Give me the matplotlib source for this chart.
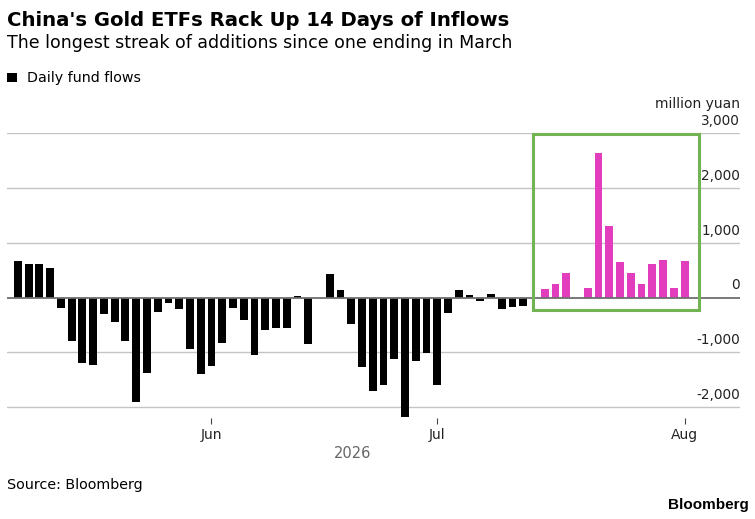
import numpy as np
import matplotlib
matplotlib.use("Agg")
import matplotlib.pyplot as plt
from matplotlib.patches import Rectangle

# daily fund flows, million yuan (None = no data that day)
flows = [665, 616, 604, 543, -183, -787, -1190, -1226, -305, -445,
         -787, -1903, -1373, -268, -92, -214, -933, -1391, -1257, -824,
         -195, -415, -1049, -598, -558, -561, 37, -854, -10, 439,
         146, -482, -1263, -1714, -1592, -1129, -2184, -1159, -1013, -1598,
         -275, 146, 49, -61, 61, -201, -165, -146, None,
         152, 250, 445, None, 177, 2647, 1299, 653, 445, 244, 604, 683, 177, 671]
streak_start = 49          # first slot of the inflow streak
month_pos = [18, 39, 62]
month_labels = ["Jun", "Jul", "Aug"]
yticks = [-2000, -1000, 0, 1000, 2000, 3000]

W, H = 755, 519
fig = plt.figure(figsize=(W / 100, H / 100), dpi=100)
plt.rcParams['font.family'] = ['DejaVu Sans']

def fx(px):
    return px / W

def fy(py):
    return 1 - py / H

ax = fig.add_axes([fx(7), fy(418), fx(740) - fx(7), fy(133.3) - fy(418)])

x = np.arange(len(flows))
vals = np.array([np.nan if v is None else v for v in flows], dtype=float)
colors = ["#000000" if i < streak_start else "#E23DBD" for i in x]
ax.bar(x, np.nan_to_num(vals), width=0.74, color=colors, zorder=3)

for t in yticks:
    if t == 0:
        ax.axhline(t, color="#6e6e6e", lw=1.3, zorder=4)
    else:
        ax.axhline(t, color="#c4c4c4", lw=1.0, zorder=1)
    ax.annotate(f"{t:,}", xy=(1, t), xycoords=("axes fraction", "data"),
                xytext=(0, 5.8), textcoords="offset points",
                ha="right", va="baseline", fontsize=9.8, color="#222222")

ax.set_xlim(-1.02, 67.16)
ax.set_ylim(-2200, 3000)
for s in ax.spines.values():
    s.set_visible(False)
ax.set_yticks([])
ax.set_xticks(month_pos)
ax.set_xticklabels(month_labels, fontsize=10, color="#222222")
ax.tick_params(axis="x", length=4.5, width=0.8, color="#444444", pad=3)

# highlight box around the streak
ax.add_patch(Rectangle((47.94, -229), 63.35 - 47.94, 2984 + 229,
                       fill=False, ec="#72B354", lw=2.2, zorder=5, clip_on=False))

fig.text(fx(740), fy(108), "million yuan", ha="right", va="baseline",
         fontsize=10, color="#222222")

fig.text(fx(7), fy(26), "China's Gold ETFs Rack Up 14 Days of Inflows",
         fontsize=14.1, fontweight="bold", va="baseline")
fig.text(fx(7), fy(48.5), "The longest streak of additions since one ending in March",
         fontsize=12.5, va="baseline")

fig.patches.append(Rectangle((fx(7), fy(82)), fx(9.5), fy(72.5) - fy(82),
                             fc="black", ec="none", transform=fig.transFigure))
fig.text(fx(27), fy(82), "Daily fund flows", fontsize=10.3, va="baseline")

fig.text(fx(353), fy(458), "2026", ha="center", va="baseline", fontsize=10.5, color="#666666")
fig.text(fx(7), fy(489), "Source: Bloomberg", fontsize=10.3, va="baseline")
fig.text(fx(749), fy(509), "Bloomberg", ha="right", va="baseline", fontsize=11,
         fontweight="bold", family=["Liberation Sans", "DejaVu Sans"])

plt.savefig("out.png", dpi=100)
